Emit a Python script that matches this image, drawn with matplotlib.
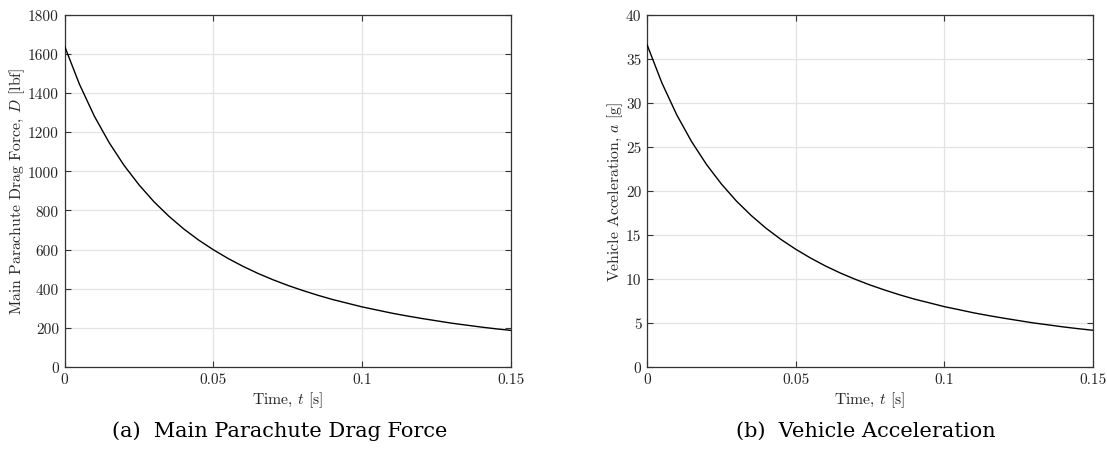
import matplotlib
matplotlib.use("Agg")
import matplotlib.pyplot as plt
import numpy as np

plt.rcParams["font.family"] = ["cmr10", "DejaVu Serif"]
plt.rcParams["mathtext.fontset"] = "cm"
plt.rcParams["axes.formatter.use_mathtext"] = True

# Time samples [s]
time_s = [0.000, 0.005, 0.010, 0.015, 0.020, 0.025, 0.030, 0.035, 0.040, 0.045,
          0.050, 0.055, 0.060, 0.065, 0.070, 0.075, 0.080, 0.085, 0.090, 0.095,
          0.100, 0.105, 0.110, 0.115, 0.120, 0.125, 0.130, 0.135, 0.140, 0.145,
          0.150]

# Main parachute drag force [lbf]
drag_lbf = [1640, 1445, 1282, 1146, 1030, 931, 845, 771, 706, 649,
            599, 554, 514, 478, 446, 417, 391, 367, 345, 326,
            307, 291, 275, 261, 248, 236, 224, 214, 204, 195,
            187]

# Vehicle acceleration [g]
accel_g = [36.6, 32.25, 28.62, 25.58, 22.99, 20.78, 18.86, 17.21, 15.76, 14.49,
           13.37, 12.37, 11.47, 10.67, 9.96, 9.31, 8.73, 8.19, 7.70, 7.28,
           6.85, 6.50, 6.14, 5.83, 5.54, 5.27, 5.00, 4.78, 4.55, 4.35,
           4.17]

x_ticks = [0, 0.05, 0.1, 0.15]
x_tick_labels = ["0", "0.05", "0.1", "0.15"]
drag_ticks = list(range(0, 1801, 200))
accel_ticks = list(range(0, 41, 5))

W, H = 1107, 460

panels = [
    dict(y=drag_lbf, yticks=drag_ticks, ylim=(0, 1800),
         ylabel="Main Parachute Drag Force, $D$ [lbf]",
         caption="(a)  Main Parachute Drag Force", caption_x=280,
         rect=[0.0583, 0.2, 0.4033, 0.7659]),
    dict(y=accel_g, yticks=accel_ticks, ylim=(0, 40),
         ylabel="Vehicle Acceleration, $a$ [g]",
         caption="(b)  Vehicle Acceleration", caption_x=866,
         rect=[0.5845, 0.2, 0.4029, 0.7659]),
]

fig = plt.figure(figsize=(W / 100, H / 100), dpi=100)
text_color = "#262626"
axis_color = "#333333"

for p in panels:
    ax = fig.add_axes(p["rect"])
    ax.plot(time_s, p["y"], color="black", lw=1.0, zorder=3)
    ax.set_xlim(0, 0.15)
    ax.set_ylim(*p["ylim"])
    ax.set_xticks(x_ticks)
    ax.set_xticklabels(x_tick_labels)
    ax.set_yticks(p["yticks"])
    ax.set_yticklabels([str(v) for v in p["yticks"]])
    ax.grid(True, color="#e3e3e3", lw=0.9, zorder=0)
    ax.set_axisbelow(True)
    ax.tick_params(direction="in", length=4, width=0.8, top=True, right=True,
                   labelsize=11, colors=axis_color, labelcolor=text_color, pad=4)
    for s in ax.spines.values():
        s.set_color(axis_color)
        s.set_linewidth(0.9)
    ax.set_xlabel("Time, $t$ [s]", fontsize=11.3, color=text_color, labelpad=2)
    ax.set_ylabel(p["ylabel"], fontsize=11.3, color=text_color, labelpad=1)
    fig.text(p["caption_x"] / W, 0.062, p["caption"], ha="center",
             va="center", fontsize=15, family="DejaVu Serif", color="black")

fig.savefig("out.png", dpi=100)
